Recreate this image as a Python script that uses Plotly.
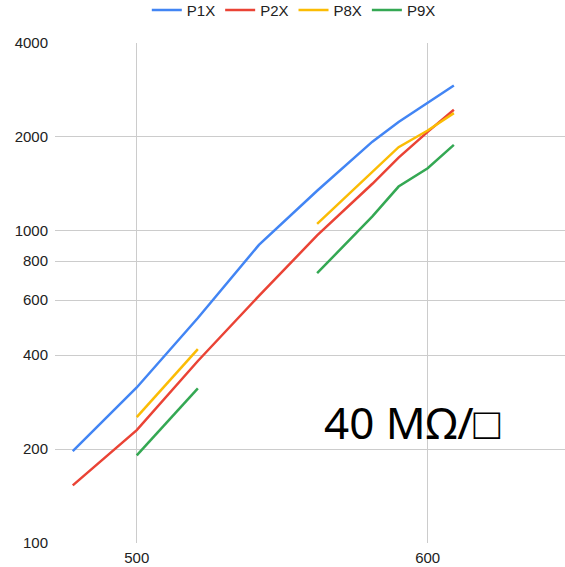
import plotly.graph_objects as go
import math

x_vals = [478, 500, 521, 542, 562, 581, 590, 600, 609]
p1x = [197, 315, 526, 902, 1345, 1932, 2234, 2578, 2922]
p2x = [153, 230, 383, 619, 967, 1416, 1717, 2076, 2443]
p8x = [None, 253, 418, None, 1053, 1546, 1855, 2097, 2384]
p9x = [None, 191, 313, None, 732, 1113, 1387, 1588, 1886]

series_names = ["P1X", "P2X", "P8X", "P9X"]
series_values = [p1x, p2x, p8x, p9x]
colors = ["#4285F4", "#EA4335", "#FBBC04", "#34A853"]

y_ticks = [100, 200, 400, 600, 800, 1000, 2000, 4000]
x_ticks = [500, 600]
annotation_text = "40 MΩ/□"

fig = go.Figure()
for name, vals, col in zip(series_names, series_values, colors):
    fig.add_trace(go.Scatter(x=x_vals, y=vals, mode="lines", name=name,
                             line=dict(color=col, width=2.5), connectgaps=False))

fig.update_layout(
    width=565, height=567,
    margin=dict(l=55, r=0, t=43, b=24),
    plot_bgcolor="white", paper_bgcolor="white",
    font=dict(family="Liberation Sans, Arial", size=15, color="#222222"),
    showlegend=True,
    legend=dict(orientation="h", xref="container", yref="container",
                x=0.52, xanchor="center", y=0.982, yanchor="middle",
                font=dict(size=15, color="#222222"), itemwidth=30,
                bgcolor="rgba(0,0,0,0)"),
    annotations=[dict(text=annotation_text, xref="paper", yref="paper",
                      x=0.70, y=0.242, xanchor="center", yanchor="middle",
                      showarrow=False,
                      font=dict(family="Noto Sans", size=44, color="#000000"))],
)
fig.update_xaxes(range=[471.9, 647.2], tickvals=x_ticks, showgrid=True,
                 gridcolor="#cccccc", gridwidth=1, zeroline=False,
                 showline=False, ticks="", ticklabelstandoff=4)
fig.update_yaxes(type="log", range=[2, math.log10(4000)], tickvals=y_ticks,
                 ticktext=[str(v) for v in y_ticks], showgrid=True,
                 gridcolor="#cccccc", gridwidth=1, zeroline=False,
                 showline=False, ticks="", ticklabelstandoff=6)

fig.write_html("out.html")
